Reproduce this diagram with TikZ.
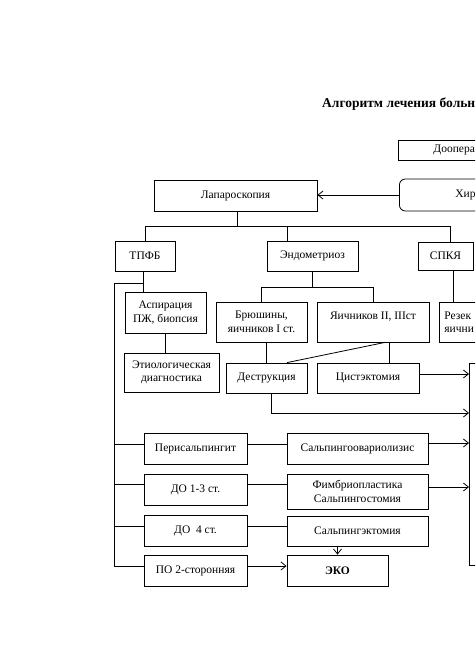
\documentclass[tikz,border=0pt]{standalone}
\usepackage{fontspec}
\setmainfont{Liberation Serif}
\usetikzlibrary{arrows.meta,calc}
\begin{document}
\begin{tikzpicture}[x=1pt,y=-1pt,
  box/.style={draw, line width=0.8pt, inner sep=2pt, align=center, font=\fontsize{11.5}{13.5}\selectfont},
  ln/.style={line width=0.8pt},
  arr/.style={ln, -{Straight Barb[length=5pt,width=8pt]}}]
\useasboundingbox (0,0) rectangle (475,671);
\clip (0,0) rectangle (475,671);
\fill[white] (0,0) rectangle (475,671);
% title
\node[anchor=base west, inner sep=0, font=\bfseries\fontsize{13.5}{16}\selectfont] (title) at (322,108) {Алгоритм лечения больн};
% top boxes
\node[box, anchor=west, minimum height=20pt, inner xsep=35pt] (doop) at (398,150) {Доопера};
\node[box, anchor=west, rounded corners=6pt, minimum height=32pt, inner xsep=56pt] (hir) at (399,195) {Хир};
\node[box, minimum width=163pt, minimum height=31pt] (lap) at (235.5,195.5) {Лапароскопия};
% second level
\node[box, minimum width=60pt, minimum height=30pt] (tpfb) at (145,256) {ТПФБ};
\node[box, minimum width=91pt, minimum height=30pt] (endo) at (312.5,256) {Эндометриоз};
\node[box, minimum width=55pt, minimum height=28pt] (spk) at (445.5,256) {СПКЯ};
% third level
\node[box, minimum width=91pt, minimum height=40pt] (brush) at (261.5,322) {Брюшины,\\яичников I ст.};
\node[box, minimum width=112pt, minimum height=40pt] (yaich) at (373,322) {Яичников II, IIIст\\\mbox{}};
\node[box, anchor=west, align=left, text width=40pt, minimum height=40pt, inner xsep=5pt] (rez) at (439,322) {Резек\\яични};
\node[box, minimum width=81pt, minimum height=41pt] (asp) at (165.5,312.5) {Аспирация\\ПЖ, биопсия};
\node[box, minimum width=95pt, minimum height=39pt] (etio) at (171.5,372.5) {Этиологическая\\диагностика};
\node[box, minimum width=81pt, minimum height=30pt] (destr) at (266.5,378) {Деструкция};
\node[box, minimum width=102pt, minimum height=30pt] (cyst) at (368,378) {Цистэктомия};
\node[box, anchor=north west, minimum width=40pt, minimum height=202pt] (big) at (469,363) {};
% rows
\node[box, minimum width=103pt, minimum height=31pt] (peri) at (195.5,448.5) {Перисальпингит};
\node[box, minimum width=103pt, minimum height=31pt] (do13) at (195.5,489.5) {ДО 1-3 ст.};
\node[box, minimum width=103pt, minimum height=31pt] (do4) at (195.5,530.5) {ДО\ \ 4 ст.};
\node[box, minimum width=103pt, minimum height=31pt] (po) at (195.5,570.5) {ПО 2-сторонняя};
\node[box, minimum width=141pt, minimum height=31pt] (salpo) at (357.5,448.5) {Сальпингоовариолизис};
\node[box, minimum width=141pt, minimum height=35pt] (fimb) at (357.5,491.5) {Фимбриопластика\\Сальпингостомия};
\node[box, minimum width=141pt, minimum height=30pt] (salpe) at (357.5,531) {Сальпингэктомия};
\node[box, minimum width=101pt, minimum height=31pt, font=\bfseries\fontsize{11.5}{13.5}\selectfont] (eko) at (337.5,570.5) {ЭКО};
% connectors top
\draw[arr] (hir.west) -- (lap.east |- hir.west);
\coordinate (bus) at (237,226);
\coordinate (sN) at ($(spk.north)+(4.5,0)$);
\coordinate (eN) at ($(endo.north)+(-25.5,0)$);
\draw[ln] (lap.south -| bus) -- (bus);
\draw[ln] (tpfb.north) |- (sN |- bus) -- (sN);
\draw[ln] (eN) -- (eN |- bus);
% endometriosis subtree
\coordinate (bus2) at (312,287);
\draw[ln] (endo.south) -- (endo.south |- bus2);
\draw[ln] (brush.north) |- (yaich.north |- bus2) -- (yaich.north);
\coordinate (sS) at ($(spk.south)+(7.5,0)$);
\draw[ln] (sS) -- (sS |- rez.north);
\draw[ln] (destr.north) -- (destr.north |- brush.south);
\coordinate (cN) at ($(cyst.north)+(21,0)$);
\draw[ln] (cN) -- (cN |- yaich.south);
\draw[ln] ($(yaich.south)+(12,0)$) -- ($(destr.north)+(20.5,0)$);
\coordinate (cE) at ($(cyst.east)+(0,-4)$);
\draw[arr] (cE) -- (big.west |- cE);
\coordinate (dS) at ($(destr.south)+(4.5,0)$);
\coordinate (dy) at (0,413);
\draw[arr] (dS) |- (big.west |- dy);
% left column
\coordinate (tS) at ($(tpfb.south)+(-2,0)$);
\draw[ln] (tS) -- (tS |- asp.north);
\draw[ln] (asp.south) -- (asp.south |- etio.north);
\coordinate (lb) at (114,283);
\coordinate (pW) at ($(po.west)+(0,-4.5)$);
\draw[ln] (tS |- lb) -- (lb) |- (pW);
\draw[ln] ($(peri.west)+(0,-4.5)$) coordinate (a1) -- (lb |- a1);
\draw[ln] ($(do13.west)+(0,-5.5)$) coordinate (a2) -- (lb |- a2);
\draw[ln] ($(do4.west)+(0,-4.5)$) coordinate (a3) -- (lb |- a3);
% right connections
\draw[ln] ($(peri.east)+(0,-4.5)$) coordinate (q1) -- (salpo.west |- q1);
\draw[arr] ($(salpo.east)+(0,-5.5)$) coordinate (q2) -- (big.west |- q2);
\draw[ln] ($(do13.east)+(0,-5.5)$) coordinate (q3) -- (fimb.west |- q3);
\draw[arr] ($(fimb.east)+(0,-4.5)$) coordinate (q4) -- (big.west |- q4);
\draw[ln] ($(do4.east)+(0,-4.5)$) coordinate (q5) -- (salpe.west |- q5);
\draw[arr] ($(salpe.south)+(-20,0)$) coordinate (q6) -- (q6 |- eko.north);
\draw[arr] ($(po.east)+(0,-4.5)$) coordinate (q7) -- (eko.west |- q7);
\end{tikzpicture}
\end{document}
